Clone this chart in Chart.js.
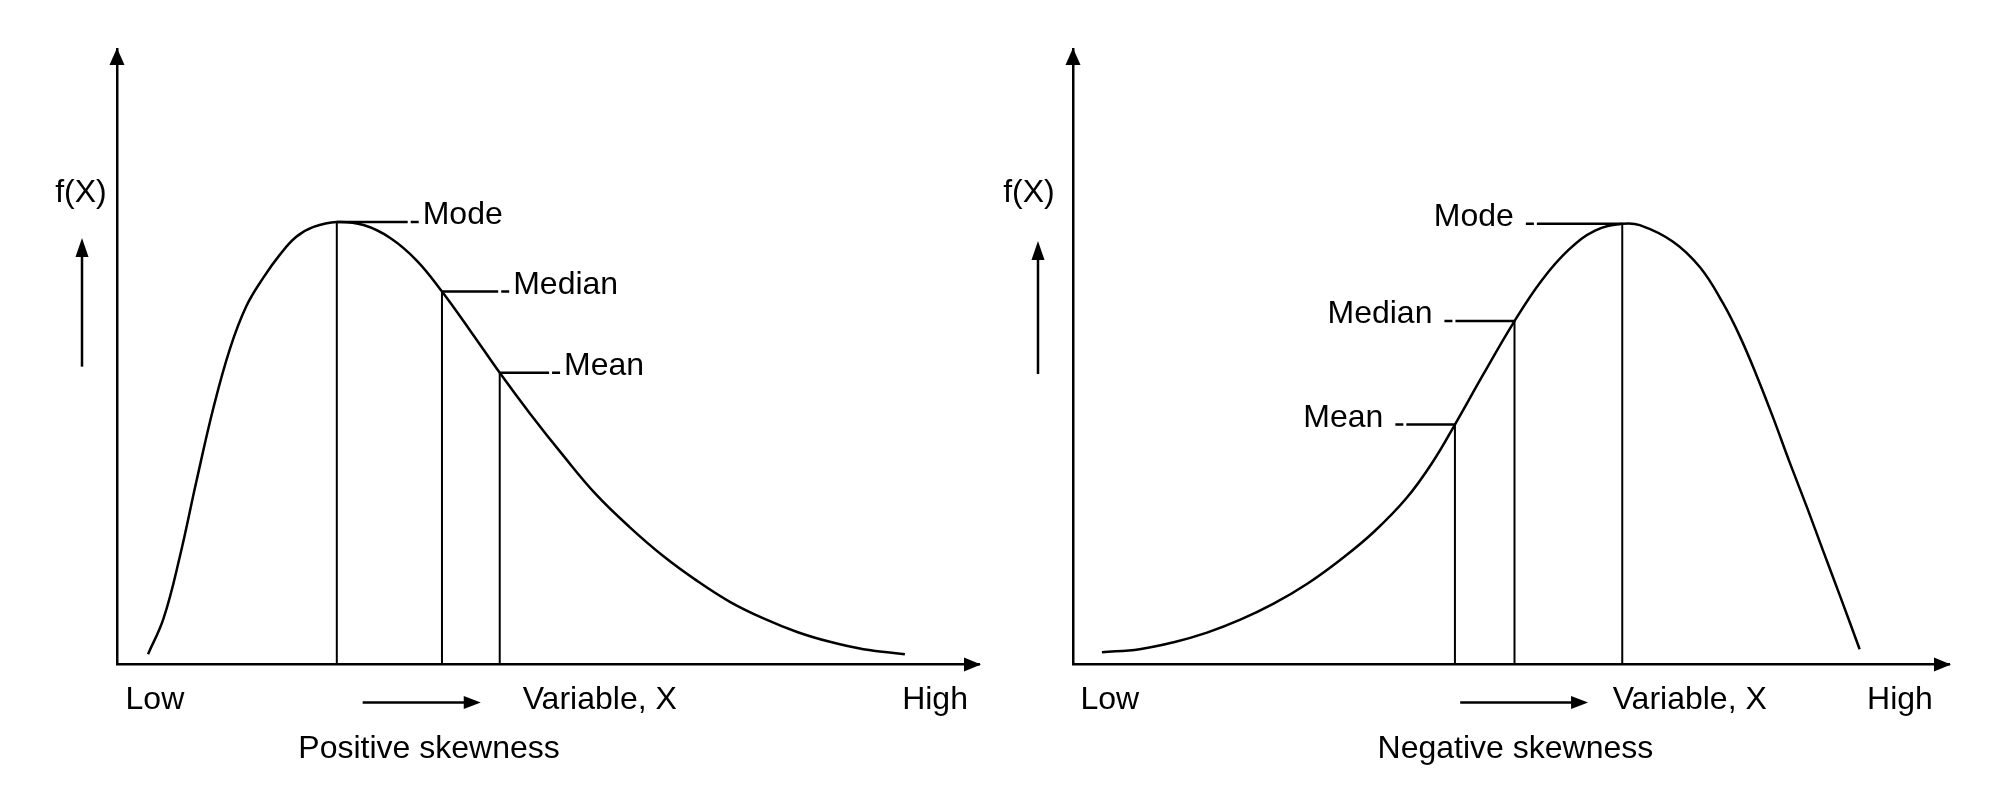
<!DOCTYPE html>
<html>
<head>
<meta charset="utf-8">
<script src="https://cdn.jsdelivr.net/npm/chart.js@4.4.1/dist/chart.umd.min.js"></script>
<style>
  html, body { margin: 0; padding: 0; background: #fff; }
  .panel { position: absolute; top: 0; width: 1003px; height: 812px; }
  #left_panel { left: 0; }
  #right_panel { left: 1003px; }
</style>
</head>
<body>
<div class="panel" id="left_panel"><canvas id="pos_chart"></canvas></div>
<div class="panel" id="right_panel"><canvas id="neg_chart"></canvas></div>
<script>
// positive skew curve (x and f(X) on a 0-100 scale)
const posX = [3.6, 5.4, 7.3, 9.2, 11.2, 13.1, 15.0, 17.0, 18.9, 20.8, 22.8, 25.5, 28.6, 31.7, 34.8, 37.7, 41.0, 44.4, 47.9, 51.8, 55.6, 59.5, 63.4, 67.3, 71.1, 75.0, 78.9, 82.7, 86.6, 91.4];
const posY = [1.7, 7.5, 17.6, 29.7, 41.8, 51.3, 58.2, 62.9, 66.6, 69.5, 71.1, 71.9, 71.4, 69.3, 65.6, 60.6, 54.2, 47.4, 40.8, 33.9, 27.6, 22.3, 17.6, 13.6, 10.2, 7.5, 5.3, 3.7, 2.5, 1.7];

// negative skew curve
const negX = [3.3, 7.6, 11.4, 15.3, 19.1, 22.9, 26.7, 30.5, 34.3, 38.1, 41.1, 43.6, 46.9, 50.4, 53.5, 56.6, 59.6, 62.7, 64.7, 68.5, 71.6, 74.2, 76.1, 78.0, 79.9, 81.8, 83.8, 85.6, 87.6, 89.8];
const negY = [2.0, 2.5, 3.6, 5.2, 7.3, 9.9, 13.1, 17.0, 21.5, 27.1, 33.0, 39.0, 47.3, 55.8, 62.4, 67.4, 70.5, 71.6, 71.4, 68.7, 64.5, 58.7, 53.4, 47.1, 40.2, 32.9, 25.5, 18.6, 11.0, 2.5];

const markerNames = ['Mode', 'Median', 'Mean'];

const posMarkerX = [25.5, 37.7, 44.4];
const posMarkerY = [71.9, 60.6, 47.4];
const posLeaderEnd = [35.0, 45.5, 51.4];

const negMarkerX = [62.7, 50.4, 43.6];
const negMarkerY = [71.6, 55.8, 39.0];
const negLeaderStart = [51.7, 42.4, 36.8];

const tickLabels = ['Low', 'Variable, X', 'High'];
const posTickValues = [4.4, 56.0, 94.9];
const negTickValues = [4.2, 70.4, 94.4];

const posCaption = 'Positive skewness';
const negCaption = 'Negative skewness';
const posCaptionX = 36.2;
const negCaptionX = 50.5;

// short arrows under the x axis / beside the y axis
const posArrowX = [28.5, 42.2];
const negArrowX = [44.2, 58.8];
const posUpArrowY = [48.4, 69.3];
const negUpArrowY = [47.2, 68.8];
const fxLabelY = 76.6;

Chart.defaults.font.family = "'Liberation Sans', Arial, sans-serif";
Chart.defaults.font.size = 32;
Chart.defaults.color = '#000';

function drawHead(ctx, x, y, dir, len, wid) {
    ctx.beginPath();
    if (dir === 'right') {
        ctx.moveTo(x, y);
        ctx.lineTo(x - len, y - wid / 2);
        ctx.lineTo(x - len, y + wid / 2);
    } else {
        ctx.moveTo(x, y);
        ctx.lineTo(x - wid / 2, y + len);
        ctx.lineTo(x + wid / 2, y + len);
    }
    ctx.closePath();
    ctx.fill();
}

const decor = {
    id: 'decor',
    afterDraw(chart, args, opts) {
        const { ctx, chartArea: a, scales: { x, y } } = chart;
        ctx.save();
        ctx.fillStyle = '#000';
        ctx.strokeStyle = '#000';

        // axis arrow heads
        drawHead(ctx, a.right + 2, a.bottom, 'right', 17, 14);
        drawHead(ctx, a.left, a.top - 1, 'up', 17, 15);

        // marker labels
        ctx.font = "32px 'Liberation Sans', Arial, sans-serif";
        ctx.textBaseline = 'alphabetic';
        markerNames.forEach((name, i) => {
            const py = y.getPixelForValue(opts.markerY[i]) + 2;
            if (opts.side === 'right') {
                ctx.textAlign = 'left';
                ctx.fillText(name, x.getPixelForValue(opts.leader[i]) + 4, py);
            } else {
                ctx.textAlign = 'right';
                ctx.fillText(name, x.getPixelForValue(opts.leader[i]) - 12, py);
            }
        });

        // caption
        ctx.textAlign = 'center';
        ctx.textBaseline = 'middle';
        ctx.fillText(opts.caption, x.getPixelForValue(opts.captionX), a.bottom + 85);

        // f(X)
        ctx.fillText('f(X)', a.left - opts.fxOffset, y.getPixelForValue(fxLabelY));

        // small arrows
        ctx.lineWidth = 2.5;
        const ay = a.bottom + 38;
        const ax0 = x.getPixelForValue(opts.arrowX[0]);
        const ax1 = x.getPixelForValue(opts.arrowX[1]);
        ctx.beginPath();
        ctx.moveTo(ax0, ay);
        ctx.lineTo(ax1 - 10, ay);
        ctx.stroke();
        drawHead(ctx, ax1, ay, 'right', 17, 13);

        const ux = a.left - 35;
        const uy0 = y.getPixelForValue(opts.upArrowY[0]);
        const uy1 = y.getPixelForValue(opts.upArrowY[1]);
        ctx.beginPath();
        ctx.moveTo(ux, uy0);
        ctx.lineTo(ux, uy1 + 10);
        ctx.stroke();
        drawHead(ctx, ux, uy1, 'up', 19, 13);

        ctx.restore();
    }
};

function buildDatasets(curveX, curveY, mX, mY, leader) {
    const sets = [{
        data: curveX.map((v, i) => ({ x: v, y: curveY[i] })),
        borderColor: '#000',
        borderWidth: 2.5,
        pointRadius: 0,
        tension: 0.4
    }];
    mX.forEach((v, i) => {
        sets.push({
            data: [{ x: v, y: 0 }, { x: v, y: mY[i] }],
            borderColor: '#000',
            borderWidth: 2,
            pointRadius: 0
        });
        // leader line with the short dash at the label end
        sets.push({
            data: [{ x: v, y: mY[i] }, { x: leader[i], y: mY[i] }],
            borderColor: '#000',
            borderWidth: 2.5,
            pointRadius: 0,
            segment: {
                borderDash: (c) => {
                    const len = Math.abs(c.p1.x - c.p0.x);
                    return [len - 11, 3, 8, 200];
                }
            }
        });
    });
    return sets;
}

function makeChart(id, datasets, tickValues, padding, decorOpts) {
    return new Chart(document.getElementById(id), {
        type: 'line',
        data: { datasets: datasets },
        options: {
            responsive: true,
            maintainAspectRatio: false,
            animation: false,
            layout: { padding: padding },
            plugins: {
                legend: { display: false },
                tooltip: { enabled: false },
                decor: decorOpts
            },
            scales: {
                x: {
                    type: 'linear',
                    min: 0,
                    max: 100,
                    grid: { display: false, drawTicks: false },
                    border: { display: true, color: '#000', width: 2.5 },
                    afterBuildTicks: (scale) => {
                        scale.ticks = tickValues.map(v => ({ value: v }));
                    },
                    ticks: {
                        autoSkip: false,
                        maxRotation: 0,
                        padding: 16,
                        callback: (value, index) => tickLabels[index]
                    }
                },
                y: {
                    type: 'linear',
                    min: 0,
                    max: 100,
                    grid: { display: false, drawTicks: false },
                    border: { display: true, color: '#000', width: 2.5 },
                    ticks: { display: false }
                }
            }
        },
        plugins: [decor]
    });
}

makeChart('pos_chart',
    buildDatasets(posX, posY, posMarkerX, posMarkerY, posLeaderEnd),
    posTickValues,
    { left: 117, right: 24, top: 49, bottom: 77 },
    { side: 'right', markerY: posMarkerY, leader: posLeaderEnd, caption: posCaption, captionX: posCaptionX,
      arrowX: posArrowX, upArrowY: posUpArrowY, fxOffset: 36 });

makeChart('neg_chart',
    buildDatasets(negX, negY, negMarkerX, negMarkerY, negLeaderStart),
    negTickValues,
    { left: 70, right: 57, top: 49, bottom: 77 },
    { side: 'left', markerY: negMarkerY, leader: negLeaderStart, caption: negCaption, captionX: negCaptionX,
      arrowX: negArrowX, upArrowY: negUpArrowY, fxOffset: 44 });
</script>
</body>
</html>
